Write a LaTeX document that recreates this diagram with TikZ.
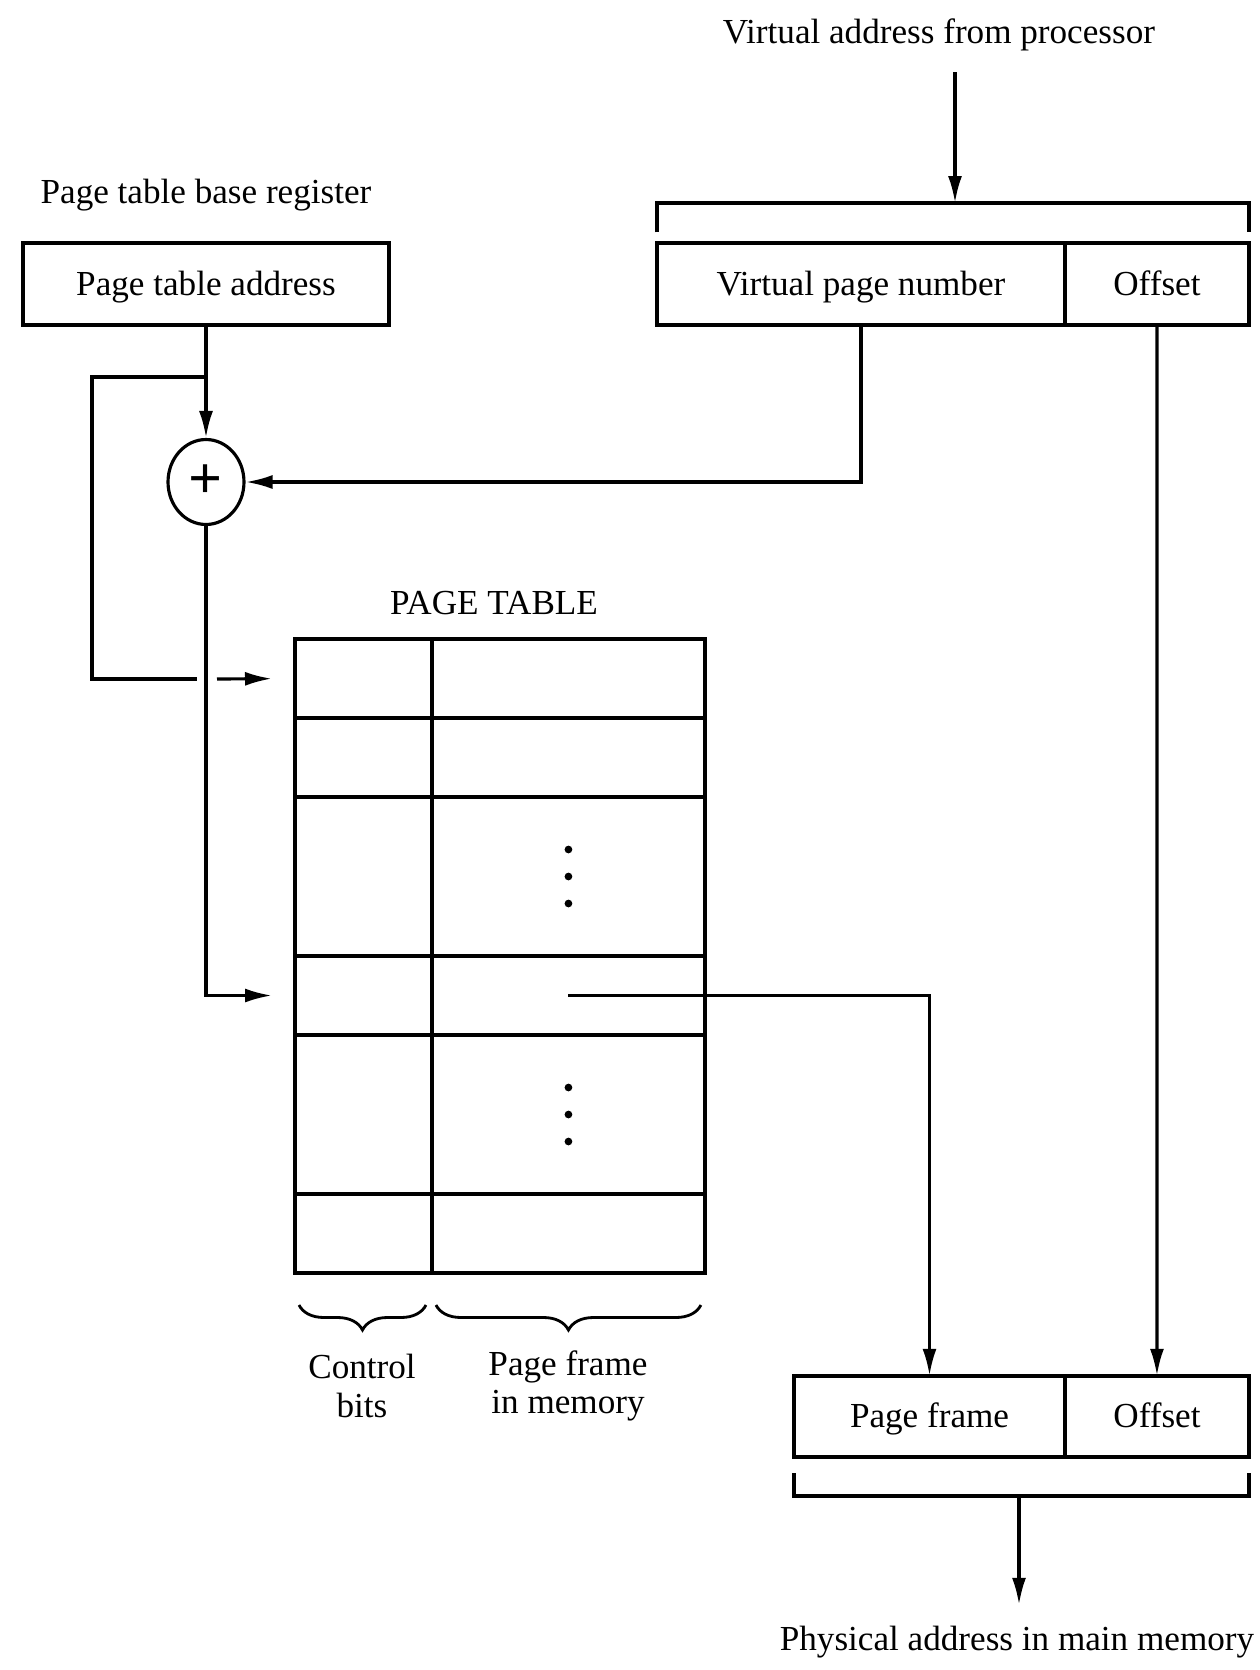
\documentclass[tikz,border=0pt]{standalone}
\usepackage{fontspec}
\setmainfont{Liberation Serif}
\usetikzlibrary{arrows.meta,positioning,calc,shapes.geometric,decorations.pathreplacing}
\tikzset{
  fieldbox/.style={draw, line width=2.3pt, minimum width=#1, minimum height=1.63cm,
    text height=1.45em, text depth=0.18em, inner sep=0pt, outer sep=0pt},
  fieldbox/.default=5cm,
  entrybox/.style={draw, line width=2.1pt, minimum width=#1, inner sep=0pt, outer sep=0pt},
  entrybox/.default=2.74cm,
  addrarr/.style={-{Latex[length=5.4mm, width=2.8mm]}, line width=1.8pt},
  addrline/.style={line width=1.8pt},
  addernode/.style={ellipse, draw, line width=1.8pt, minimum width=1.52cm,
    minimum height=1.7cm, inner sep=0pt, font=\fontsize{34}{34}\selectfont\bfseries},
  notelabel/.style={align=center, inner sep=2pt},
  underbrace/.style={decorate, decoration={brace, mirror, amplitude=0.5cm}, line width=1.6pt},
}

\begin{document}
\begin{tikzpicture}[x=0.02cm, y=-0.02cm, every node/.style={font=\fontsize{20}{22}\selectfont}]
  \useasboundingbox (0,0) rectangle (1259,1670);

  % registros de entrada
  \node (ptbr) at (206,195) {Page table base register};
  \node[fieldbox=7.32cm] (pta) at (206,284) {Page table address};
  \node (vaddr) at (939,35) {Virtual address from processor};
  \node[fieldbox=8.16cm] (vpn) at (861,284) {Virtual page number};
  \node[fieldbox=3.68cm, right=0pt of vpn] (offin) {Offset};

  % sumador
  \node[addernode] (adder) at (206,482) {+};

  % tabla de paginas
  \node (ptlabel) at (494,603) {PAGE TABLE};
  \foreach \r/\t/\h in {1/639/79, 2/718/79, 3/797/159, 4/956/79, 5/1035/159, 6/1194/79}{
    \node[entrybox=2.74cm, minimum height=\h*0.02cm, anchor=north west] (ctrl\r) at (295,\t) {};
    \node[entrybox=5.46cm, minimum height=\h*0.02cm, right=0pt of ctrl\r] (frame\r) {};
  }
  \foreach \r in {3,5}
    \foreach \d in {-27,0,27}
      \fill ($(frame\r.center)+(0,\d)$) circle (2.2pt);
  \draw[underbrace] ($(ctrl6.south west)+(4,32)$) -- ($(ctrl6.south east)+(-6,32)$);
  \draw[underbrace] ($(frame6.south west)+(4,32)$) -- ($(frame6.south east)+(-4,32)$);
  \node[notelabel] (ctrlnote) at (362,1386) {Control\\bits};
  \node[notelabel] (framenote) at (568,1386) {Page frame\\in memory};

  % direccion fisica
  \node[fieldbox=5.42cm] (pframe) at (929.5,1416.5) {Page frame};
  \node[fieldbox=3.68cm, right=0pt of pframe] (offout) {Offset};
  \node (paddr) at (1017,1642) {Physical address in main memory};

  % corchetes
  \coordinate (inbar) at (955,203);
  \draw[addrline] ($(vpn.north west)+(0,-11)$) |- (inbar) -| ($(offin.north east)+(0,-11)$);
  \draw[addrarr, shorten <=0.3cm] (vaddr.south -| inbar) -- (inbar);
  \coordinate (outbar) at (1019,1496);
  \draw[addrline] ($(pframe.south west)+(0,16)$) |- (outbar) -| ($(offout.south east)+(0,16)$);
  \draw[addrarr, shorten >=0.3cm] (outbar) -- (outbar |- paddr.north);

  % conexiones
  \coordinate (tap) at (206,377);
  \coordinate (loopcorner) at (92,679);
  \coordinate (jumpa) at (197,679);
  \coordinate (jumpb) at (217,679);
  \draw[addrarr] (pta.south) -- (adder.north);
  \draw[addrline] (tap) -| (loopcorner) -- (jumpa);
  \draw[addrarr, shorten >=0.46cm] (jumpb) -- (ctrl1.west);
  \draw[addrarr] (vpn.south) |- (adder.east);
  \draw[addrarr, shorten >=0.46cm] (adder.south) |- (ctrl4.west);
  \draw[addrarr] (frame4.center) -| (pframe.north);
  \draw[addrarr] (offin.south) -- (offout.north);
\end{tikzpicture}
\end{document}
